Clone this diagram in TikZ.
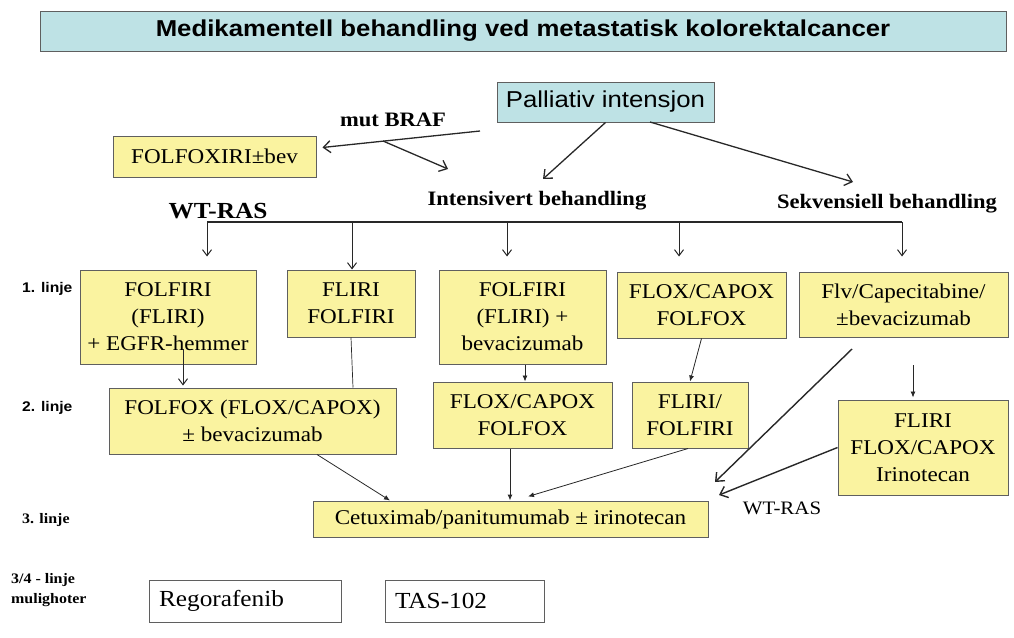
\documentclass[tikz,border=0pt]{standalone}
\usepackage{fontspec}
\setmainfont{Liberation Serif}[FakeStretch=1.1]
\newfontfamily\sansf{Liberation Sans}[FakeStretch=1.12]
\usetikzlibrary{arrows.meta}
\definecolor{boxyellow}{RGB}{250,243,160}
\definecolor{boxblue}{RGB}{190,226,229}
\definecolor{edgegray}{RGB}{95,95,95}
\definecolor{linecol}{RGB}{40,40,40}
\begin{document}
\begin{tikzpicture}[x=1pt,y=-1pt,
  ybox/.style={draw=edgegray,line width=1pt,fill=boxyellow,inner sep=0pt,align=center,font=\fontsize{21}{27}\selectfont},
  bbox/.style={draw=edgegray,line width=1pt,fill=boxblue,inner sep=0pt},
  wbox/.style={draw=edgegray,line width=1pt,fill=white,inner ysep=0pt,inner xsep=10pt,align=left,font=\fontsize{23}{27}\selectfont},
  lbl/.style={font=\fontsize{20.5}{24}\selectfont\bfseries,inner sep=0pt,anchor=base},
  rowlbl/.style={font=\sansf\bfseries\fontsize{14}{16}\selectfont,inner sep=0pt,anchor=base west},
  rowlbls/.style={font=\bfseries\fontsize{14.5}{20}\selectfont,inner sep=0pt,anchor=base west},
  barb/.style={draw=linecol,-{Straight Barb[length=7pt,width=12pt]},line width=1.3pt},
  dropar/.style={draw=linecol,-{Straight Barb[length=6pt,width=9pt]},line width=1pt},
  tip/.style={draw=linecol,-{Latex[length=6pt,width=5pt]},line width=0.8pt},
  thinl/.style={draw=linecol,line width=0.7pt}]
\useasboundingbox (0,0) rectangle (1014,637);
\clip (0,0) rectangle (1014,637);

% title
\node[bbox,minimum width=966pt,minimum height=40pt] (title) at (523,31)
  {\sansf\bfseries\fontsize{23}{26}\selectfont Medikamentell behandling ved metastatisk kolorektalcancer};

% top part
\node[bbox,minimum width=217pt,minimum height=40pt] (pal) at (605.5,102)
  {\sansf\fontsize{23}{26}\selectfont Palliativ intensjon};
\node[ybox,minimum width=203pt,minimum height=41pt] (ffx) at (214.5,156.5) {FOLFOXIRI±bev};
\node[lbl] (braf) at (393,126) {mut BRAF};
\node[lbl] (int) at (537,205) {Intensivert behandling};
\node[lbl] (sek) at (887,208) {Sekvensiell behandling};
\node[lbl,font=\fontsize{23}{26}\selectfont\bfseries] (wtras) at (218,218) {WT-RAS};

\coordinate (pfrom) at (480,131);
\coordinate (pmid) at (383,141);
\coordinate (intTip) at (448,169);
\coordinate (intTip2) at (543,179);
\coordinate (sekFrom) at (650,122);
\coordinate (sekTip) at (853,182);
\draw[barb] (pfrom) -- ([xshift=6pt,yshift=9pt]ffx.east);
\draw[barb] (pmid) -- (intTip);
\draw[barb] (pal.south) -- (intTip2);
\draw[barb] (sekFrom) -- (sekTip);

% first line boxes
\node[ybox,minimum width=176pt,minimum height=94pt] (A) at (168,317) {FOLFIRI\\(FLIRI)\\+ EGFR-hemmer};
\node[ybox,minimum width=128pt,minimum height=67pt] (B) at (351,303.5) {FLIRI\\FOLFIRI};
\node[ybox,minimum width=167pt,minimum height=94pt] (C) at (522.5,317) {FOLFIRI\\(FLIRI) +\\bevacizumab};
\node[ybox,minimum width=169pt,minimum height=66pt] (D) at (701.5,305) {FLOX/CAPOX\\FOLFOX};
\node[ybox,minimum width=209pt,minimum height=65pt] (E) at (903.5,304.5) {Flv/Capecitabine/\\±bevacizumab};

% WT-RAS bar
\coordinate (dA) at (207,222);
\coordinate (dB) at (352,222);
\coordinate (dC) at (507,222);
\coordinate (dD) at (679,222);
\coordinate (dE) at (902,222);
\draw[linecol,line width=1.3pt] (dA) -- (dE);
\draw[dropar] (dA) -- ([yshift=13pt]A.north -| dA);
\draw[dropar] (dB) -- (B.north -| dB);
\draw[dropar] (dC) -- ([yshift=13pt]C.north -| dC);
\draw[dropar] (dD) -- ([yshift=15pt]D.north -| dD);
\draw[dropar] (dE) -- ([yshift=15pt]E.north -| dE);

% second line boxes
\node[ybox,minimum width=287pt,minimum height=66pt] (F2) at (252.5,421) {FOLFOX (FLOX/CAPOX)\\± bevacizumab};
\node[ybox,minimum width=179pt,minimum height=66pt] (C2) at (522.5,415) {FLOX/CAPOX\\FOLFOX};
\node[ybox,minimum width=116pt,minimum height=66pt] (D2) at (690,415) {FLIRI/\\FOLFIRI};
\node[ybox,minimum width=170pt,minimum height=95pt] (G) at (923,447.5) {FLIRI\\FLOX/CAPOX\\Irinotecan};

\draw[dropar] ([xshift=15pt,yshift=16pt]A.south) -- ([xshift=15pt,yshift=2pt]A.south |- F2.north);
\draw[thinl] (B.south) -- ([xshift=2pt]B.south |- F2.north);
\draw[tip] ([xshift=2.5pt]C.south) -- ([xshift=2.5pt]C.south |- C2.north);
\draw[tip] (D.south) -- (D2.north);
\coordinate (eg) at (913,365);
\draw[tip] (eg) -- ([yshift=2pt]G.north -| eg);

% third line
\node[ybox,minimum width=395pt,minimum height=36pt] (H) at (510.5,519) {Cetuximab/panitumumab ± irinotecan};
\draw[tip] ([xshift=64.5pt]F2.south) -- ([xshift=-120.5pt]H.north);
\draw[tip,line width=1pt] ([xshift=-12.5pt]C2.south) -- ([xshift=-12.5pt]C2.south |- H.north);
\draw[tip] ([xshift=-2pt]D2.south) -- ([xshift=17.5pt,yshift=4pt]H.north);
\coordinate (ef) at (852,349);
\coordinate (et) at (715,482);
\coordinate (gt) at (719,495);
\draw[barb,line width=1.4pt] (ef) -- (et);
\draw[barb,line width=1.4pt] (G.west) -- (gt);
\node[font=\fontsize{19}{22}\selectfont,inner sep=0pt,anchor=base] (wt2) at (782,514) {WT-RAS};

% row labels
\node[rowlbl] (r1) at (22,292) {1. linje};
\node[rowlbl] (r2) at (22,411) {2. linje};
\node[rowlbls] (r3) at (22,523) {3. linje};
\node[rowlbls,align=left] (r4) at (11,603) {3/4 - linje\\mulighoter};

% bottom boxes
\node[wbox,text width=172pt,minimum height=42pt] (reg) at (245,601) {Regorafenib};
\node[wbox,text width=139pt,minimum height=42pt] (tas) at (464.5,601) {TAS-102};
\end{tikzpicture}
\end{document}
